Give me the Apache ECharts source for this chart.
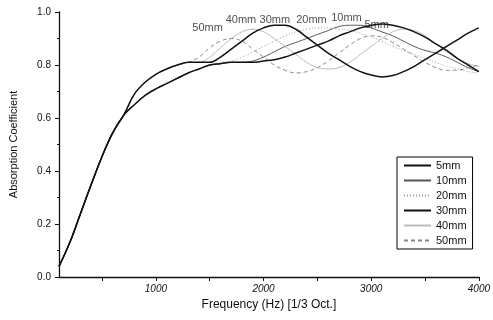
<!DOCTYPE html>
<html>
<head>
<meta charset="utf-8">
<script src="https://cdn.jsdelivr.net/npm/echarts@6/dist/echarts.min.js"></script>
<style>
  html, body { margin: 0; padding: 0; background: #fff; }
  #chart { width: 493px; height: 320px; }
</style>
</head>
<body>
<div id="chart"></div>
<script>
// frequency points (Hz)
const freq = [100, 200, 300, 400, 500, 600, 700, 800, 900, 1000,
  1100, 1200, 1300, 1400, 1500, 1600, 1700, 1800, 1900, 2000,
  2100, 2200, 2300, 2400, 2500, 2600, 2700, 2800, 2900, 3000,
  3100, 3200, 3300, 3400, 3500, 3600, 3700, 3800, 3900, 4000];

const names = ["5mm", "10mm", "20mm", "30mm", "40mm", "50mm"];

const a5 = [0.04, 0.13, 0.24, 0.35, 0.455, 0.545, 0.61, 0.65, 0.685, 0.71,
  0.73, 0.75, 0.77, 0.785, 0.80, 0.805, 0.81, 0.81, 0.81, 0.815,
  0.82, 0.83, 0.845, 0.86, 0.875, 0.89, 0.91, 0.925, 0.94, 0.95,
  0.955, 0.95, 0.94, 0.925, 0.905, 0.88, 0.855, 0.825, 0.80, 0.775];
const a10 = [0.04, 0.13, 0.24, 0.35, 0.455, 0.545, 0.61, 0.65, 0.685, 0.71,
  0.73, 0.75, 0.77, 0.785, 0.80, 0.805, 0.81, 0.81, 0.815, 0.83,
  0.85, 0.87, 0.885, 0.90, 0.915, 0.93, 0.945, 0.95, 0.95, 0.94,
  0.925, 0.91, 0.89, 0.87, 0.855, 0.845, 0.83, 0.81, 0.79, 0.775];
const a20 = [0.04, 0.13, 0.24, 0.35, 0.455, 0.545, 0.61, 0.65, 0.685, 0.71,
  0.73, 0.75, 0.77, 0.785, 0.80, 0.81, 0.815, 0.83, 0.85, 0.87,
  0.89, 0.91, 0.925, 0.935, 0.94, 0.94, 0.935, 0.93, 0.92, 0.905,
  0.89, 0.87, 0.855, 0.84, 0.825, 0.81, 0.795, 0.785, 0.775, 0.77];
const a30 = [0.04, 0.13, 0.24, 0.35, 0.455, 0.545, 0.61, 0.69, 0.735, 0.765,
  0.785, 0.80, 0.81, 0.81, 0.81, 0.83, 0.86, 0.89, 0.92, 0.94,
  0.95, 0.95, 0.935, 0.905, 0.875, 0.845, 0.82, 0.795, 0.775, 0.762,
  0.755, 0.76, 0.775, 0.795, 0.82, 0.845, 0.87, 0.895, 0.92, 0.94];
const a40 = [0.04, 0.13, 0.24, 0.35, 0.455, 0.545, 0.61, 0.69, 0.735, 0.765,
  0.785, 0.80, 0.81, 0.81, 0.83, 0.865, 0.90, 0.925, 0.935, 0.925,
  0.90, 0.87, 0.84, 0.81, 0.79, 0.785, 0.79, 0.81, 0.84, 0.87,
  0.90, 0.925, 0.935, 0.93, 0.91, 0.88, 0.85, 0.825, 0.805, 0.795];
const a50 = [0.04, 0.13, 0.24, 0.35, 0.455, 0.545, 0.61, 0.69, 0.735, 0.765,
  0.785, 0.80, 0.81, 0.83, 0.865, 0.89, 0.90, 0.89, 0.86, 0.83,
  0.80, 0.78, 0.77, 0.775, 0.79, 0.815, 0.845, 0.875, 0.90, 0.91,
  0.905, 0.885, 0.86, 0.835, 0.81, 0.79, 0.78, 0.78, 0.79, 0.80];

// curve labels written over the peaks: [name, freq, coefficient]
const peakLabels = [
  ["50mm", 1480, 0.94],
  ["40mm", 1790, 0.97],
  ["30mm", 2105, 0.97],
  ["20mm", 2445, 0.97],
  ["10mm", 2770, 0.977],
  ["5mm", 3050, 0.951],
];

const xTicks = [500, 1000, 1500, 2000, 2500, 3000, 3500, 4000];
const xLabels = [1000, 2000, 3000, 4000];

const styles = [
  { color: "#111", width: 1.5, type: "solid" },
  { color: "#555", width: 1, type: "solid" },
  { color: "#999", width: 1, type: [1, 2] },
  { color: "#111", width: 1.5, type: "solid" },
  { color: "#bbb", width: 1, type: "solid" },
  { color: "#888", width: 1, type: [4, 3] },
];

const values = [a5, a10, a20, a30, a40, a50];
const font = "Liberation Sans, Arial, sans-serif";

const chart = echarts.init(document.getElementById("chart"));

const series = names.map((name, i) => ({
  name: name,
  type: "line",
  smooth: 0.4,
  symbol: "none",
  data: freq.map((f, k) => [f, values[i][k]]),
  lineStyle: styles[i],
  itemStyle: { color: styles[i].color },
  z: i === 0 || i === 3 ? 3 : 2,
}));

series.push({
  type: "scatter",
  symbolSize: 0,
  silent: true,
  data: peakLabels.map((p) => ({ value: [p[1], p[2]], name: p[0] })),
  label: {
    show: true,
    position: "inside",
    formatter: (p) => p.name,
    color: "#222",
    fontSize: 11,
    fontFamily: font,
  },
});

const option = {
  animation: false,
  grid: { left: 57, right: 14, top: 12, bottom: 43 },
  legend: {
    data: names,
    orient: "vertical",
    left: 397,
    top: 157,
    borderColor: "#000",
    borderWidth: 1,
    padding: [3, 6, 3, 6],
    itemWidth: 27,
    itemHeight: 8,
    itemGap: 4,
    itemStyle: { opacity: 0 },
    textStyle: { fontSize: 11, color: "#111", fontFamily: font },
  },
  xAxis: {
    type: "value",
    min: 100,
    max: 4000,
    name: "Frequency (Hz) [1/3 Oct.]",
    nameLocation: "middle",
    nameGap: 22,
    nameTextStyle: { fontSize: 12, color: "#111", fontFamily: font },
    splitLine: { show: false },
    axisLine: { lineStyle: { color: "#111", width: 1.3 } },
    axisTick: { length: 4, customValues: xTicks, lineStyle: { color: "#111" } },
    axisLabel: {
      customValues: xLabels,
      fontSize: 10,
      fontStyle: "italic",
      color: "#111",
      fontFamily: font,
      margin: 7,
      formatter: (v) => String(v),
    },
  },
  yAxis: {
    type: "value",
    min: 0,
    max: 1,
    interval: 0.2,
    name: "Absorption Coefficient",
    nameLocation: "middle",
    nameGap: 40,
    nameTextStyle: { fontSize: 11, color: "#111", fontFamily: font },
    splitLine: { show: false },
    axisLine: { show: true, lineStyle: { color: "#111", width: 1.3 } },
    axisTick: { show: true, length: 4, lineStyle: { color: "#111" } },
    minorTick: { show: true, splitNumber: 2, length: 2, lineStyle: { color: "#111" } },
    axisLabel: {
      fontSize: 10,
      color: "#111",
      fontFamily: font,
      formatter: (v) => v.toFixed(1),
    },
  },
  series: series,
};

chart.setOption(option);
window.addEventListener("resize", () => {
  chart.resize();
});
</script>
</body>
</html>
